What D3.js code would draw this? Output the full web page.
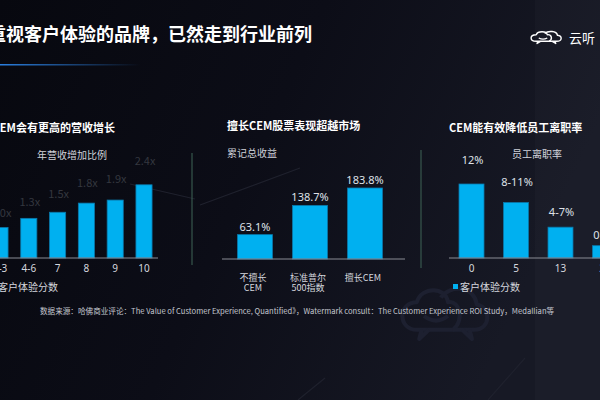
<!DOCTYPE html>
<html>
<head>
<meta charset="utf-8">
<script src="https://cdn.jsdelivr.net/npm/d3@7"></script>
<style>
  body { margin: 0; background: #0b0c15; }
  svg { display: block; font-family: "Noto Sans CJK SC", "Noto Sans", sans-serif; }
</style>
</head>
<body>
<div id="slide"></div>
<script>
// left chart: revenue growth by CX score
var growthCats = ['1-3', '4-6', '7', '8', '9', '10'];
var growthVals = [1.0, 1.3, 1.5, 1.8, 1.9, 2.4];
var growthLabels = ['1.0x', '1.3x', '1.5x', '1.8x', '1.9x', '2.4x'];

// middle chart: cumulative stock return
var stockCats = [['不擅长', 'CEM'], ['标准普尔', '500指数'], ['擅长CEM']];
var stockVals = [63.1, 138.7, 183.8];
var stockLabels = ['63.1%', '138.7%', '183.8%'];

// right chart: staff turnover by CX score
var churnCats = ['0', '5', '13', '20'];
var churnVals = [12, 9, 5, 2];
var churnLabels = ['12%', '8-11%', '4-7%', '0-3%'];

var width = 600, height = 400;
var barColor = '#00b0f0';

var svg = d3.select('#slide')
    .append('svg')
    .attr('width', width)
    .attr('height', height);

var defs = svg.append('defs');
var bg = defs.append('linearGradient').attr('id', 'bg').attr('x1', 0).attr('x2', 1).attr('y1', 0).attr('y2', 0.3);
bg.append('stop').attr('offset', 0).attr('stop-color', '#07080f');
bg.append('stop').attr('offset', 0.5).attr('stop-color', '#0c0d17');
bg.append('stop').attr('offset', 1).attr('stop-color', '#171925');
var ul = defs.append('linearGradient').attr('id', 'ul');
ul.append('stop').attr('offset', 0).attr('stop-color', '#2a7fe0');
ul.append('stop').attr('offset', 1).attr('stop-color', '#2a7fe0').attr('stop-opacity', 0);

svg.append('rect').attr('width', width).attr('height', height).attr('fill', 'url(#bg)');
svg.append('rect').attr('x', 535).attr('y', 0).attr('width', 65).attr('height', 400).attr('fill', '#ffffff').attr('opacity', 0.02);

// faint decoration lines
var deco = [[[130, 184], [195, 199]], [[200, 205], [300, 168]], [[298, 400], [325, 378]], [[488, 400], [525, 358]]];
svg.selectAll('.deco').data(deco).enter().append('line')
    .attr('x1', d => d[0][0]).attr('y1', d => d[0][1])
    .attr('x2', d => d[1][0]).attr('y2', d => d[1][1])
    .attr('stroke', '#1f212d').attr('stroke-width', 1.2);

// cloud outline, drawn in a unit box and scaled by transform
function cloud(g, stroke, sw) {
    var p = g.append('g').attr('fill', 'none').attr('stroke', stroke).attr('stroke-width', sw)
        .attr('stroke-linejoin', 'round');
    p.append('path').attr('vector-effect', 'non-scaling-stroke')
        .attr('d', 'M-8,6 C-16,6 -16,-6 -8,-6 C-6,-13 4,-13 5,-6 C10,-7 12,2 7,6 Z');
    p.append('path').attr('vector-effect', 'non-scaling-stroke')
        .attr('d', 'M2,-8 C6,-14 16,-13 17,-5 C23,-4 23,6 16,6 L7,6');
    p.append('path').attr('vector-effect', 'non-scaling-stroke')
        .attr('d', 'M-6,6 L-7,10 L-3,6 M14,6 L15,10 L11,6 M-5,0 Q0,4 5,0');
}
cloud(svg.append('g').attr('transform', 'translate(436,316) scale(2.4,2.3)'), '#1d2030', 4);

// header
svg.append('text')
    .attr('x', 312).attr('y', 41)
    .attr('text-anchor', 'end')
    .attr('font-size', 18).attr('font-weight', 'bold')
    .attr('fill', '#ffffff')
    .text('重视客户体验的品牌，已然走到行业前列');
svg.append('rect').attr('x', 0).attr('y', 64).attr('width', 140).attr('height', 1.5).attr('fill', 'url(#ul)');

cloud(svg.append('g').attr('transform', 'translate(543,38) scale(0.85,0.55)'), '#ffffff', 1.4);
svg.append('text').attr('x', 569).attr('y', 43).attr('font-size', 13).attr('fill', '#ffffff').text('云听');

function addTitle(x, y, t, anchor) {
    svg.append('text').attr('x', x).attr('y', y).attr('text-anchor', anchor || 'start')
        .attr('font-size', 11).attr('font-weight', 'bold').attr('fill', '#ffffff').text(t);
}
function addSub(x, y, t) {
    svg.append('text').attr('x', x).attr('y', y).attr('font-size', 10).attr('fill', '#cfd2da').text(t);
}
function labelOffset(h) { return 8 + 0.22 * h; }

// ---- left chart
addTitle(115, 132, '做好CEM会有更高的营收增长', 'end');
addSub(37, 159, '年营收增加比例');

var x1 = d3.scaleBand().domain(growthCats).range([-14.4, 158.4]).paddingInner(0.44).paddingOuter(0.22);
var y1 = d3.scaleLinear().domain([0, 2.4]).range([258, 184.8]);

svg.selectAll('.g1').data(growthVals).enter().append('rect')
    .attr('x', (d, i) => x1(growthCats[i]))
    .attr('y', d => y1(d))
    .attr('width', x1.bandwidth())
    .attr('height', d => y1(0) - y1(d))
    .attr('fill', barColor).attr('stroke', '#0a78aa').attr('stroke-width', 0.8);

svg.selectAll('.l1').data(growthVals).enter().append('text')
    .attr('x', (d, i) => x1(growthCats[i]) + x1.bandwidth() / 2 + 1)
    .attr('y', d => y1(d) - labelOffset(y1(0) - y1(d)) + 4)
    .attr('text-anchor', 'middle').attr('font-size', 11).attr('fill', '#34373f')
    .text((d, i) => growthLabels[i]);

svg.append('g').attr('transform', 'translate(0,258)')
    .call(d3.axisBottom(x1).tickSize(0).tickPadding(7))
    .call(g => g.select('.domain').attr('d', 'M-10,0H158').attr('stroke', '#8a8c95'))
    .call(g => g.selectAll('text').attr('font-size', 10).attr('fill', '#d5d7de').attr('font-family', '"Noto Sans", sans-serif'));

svg.append('rect').attr('x', -8).attr('y', 283).attr('width', 5).attr('height', 5).attr('fill', barColor);
svg.append('text').attr('x', -2).attr('y', 291).attr('font-size', 10).attr('fill', '#d5d7de').text('客户体验分数');

svg.append('line').attr('x1', 192).attr('x2', 192).attr('y1', 153).attr('y2', 265).attr('stroke', '#3f6457');

// ---- middle chart
addTitle(227, 130, '擅长CEM股票表现超越市场');
addSub(227, 157, '累记总收益');

var x2 = d3.scaleBand().domain(stockLabels).range([222.5, 397.5]).paddingInner(0.364).paddingOuter(0.273);
var y2 = d3.scaleLinear().domain([0, 183.8]).range([259, 188]);

svg.selectAll('.g2').data(stockVals).enter().append('rect')
    .attr('x', (d, i) => x2(stockLabels[i]))
    .attr('y', d => y2(d))
    .attr('width', x2.bandwidth())
    .attr('height', d => y2(0) - y2(d))
    .attr('fill', barColor).attr('stroke', '#0a78aa').attr('stroke-width', 0.8);

svg.selectAll('.l2').data(stockVals).enter().append('text')
    .attr('x', (d, i) => x2(stockLabels[i]) + x2.bandwidth() / 2)
    .attr('y', d => y2(d) - 4)
    .attr('text-anchor', 'middle').attr('font-size', 11).attr('fill', '#dfe1e8')
    .attr('font-family', '"Noto Sans", sans-serif')
    .text((d, i) => stockLabels[i]);

svg.append('line').attr('x1', 222).attr('x2', 405).attr('y1', 259).attr('y2', 259).attr('stroke', '#8a8c95');

var cat2 = svg.selectAll('.c2').data(stockCats).enter().append('text')
    .attr('text-anchor', 'middle').attr('font-size', 9).attr('fill', '#d5d7de');
cat2.selectAll('tspan').data((d, i) => d.map(t => [t, i])).enter().append('tspan')
    .attr('x', d => x2(stockLabels[d[1]]) + x2.bandwidth() / 2 - 2)
    .attr('y', (d, j) => 281 + j * 10)
    .text(d => d[0]);

// ---- right chart
svg.append('line').attr('x1', 421).attr('x2', 421).attr('y1', 150).attr('y2', 268).attr('stroke', '#3f6457');
addTitle(449, 132, 'CEM能有效降低员工离职率');
addSub(512, 158, '员工离职率');

var x3 = d3.scaleBand().domain(churnCats).range([441.2, 635.3]).paddingInner(0.438).paddingOuter(0.4);
var y3 = d3.scaleLinear().domain([0, 12]).range([258, 184]);

svg.selectAll('.g3').data(churnVals).enter().append('rect')
    .attr('x', (d, i) => x3(churnCats[i]))
    .attr('y', d => y3(d))
    .attr('width', x3.bandwidth())
    .attr('height', d => y3(0) - y3(d))
    .attr('fill', barColor).attr('stroke', '#0a78aa').attr('stroke-width', 0.8);

svg.selectAll('.l3').data(churnVals).enter().append('text')
    .attr('x', (d, i) => x3(churnCats[i]) + x3.bandwidth() / 2 + 1)
    .attr('y', d => y3(d) - labelOffset(y3(0) - y3(d)) + 4)
    .attr('text-anchor', 'middle').attr('font-size', 11).attr('fill', '#dfe1e8')
    .attr('font-family', '"Noto Sans", sans-serif')
    .text((d, i) => churnLabels[i]);

svg.append('g').attr('transform', 'translate(0,258)')
    .call(d3.axisBottom(x3).tickSize(0).tickPadding(7))
    .call(g => g.select('.domain').attr('d', 'M449,0H610').attr('stroke', '#8a8c95'))
    .call(g => g.selectAll('text').attr('font-size', 10).attr('fill', '#d5d7de').attr('font-family', '"Noto Sans", sans-serif'));

svg.append('rect').attr('x', 453).attr('y', 284).attr('width', 5).attr('height', 5).attr('fill', barColor);
svg.append('text').attr('x', 460).attr('y', 291).attr('font-size', 10).attr('fill', '#d5d7de').text('客户体验分数');

// footer
svg.append('text')
    .attr('x', 40).attr('y', 314)
    .attr('font-size', 7.6).attr('fill', '#c4c7cf')
    .text('数据来源：哈佛商业评论：The Value of Customer Experience, Quantified》，Watermark consult：The Customer Experience ROI Study，Medallian等');
</script>
</body>
</html>
